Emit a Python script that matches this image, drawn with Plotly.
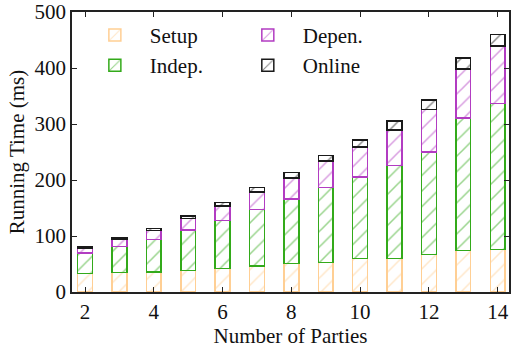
import plotly.graph_objects as go

parties = [2, 3, 4, 5, 6, 7, 8, 9, 10, 11, 12, 13, 14]
setup = [33, 35, 36, 38, 42, 46, 51, 53, 60, 60, 67, 74.5, 76]
indep = [37, 46, 58, 73, 86, 101, 115, 134, 145, 166, 183, 236.5, 261]
depen = [7.5, 13, 16, 20, 26, 32, 38, 47, 54, 63, 76, 87.5, 102.5]
online = [3, 2.5, 3.5, 4.5, 6, 8, 9, 10, 12, 16, 17, 19, 20.5]

series = [
    ("Setup", setup, "#ffcf94", "legend"),
    ("Indep.", indep, "#33aa1a", "legend"),
    ("Depen.", depen, "#b23cc2", "legend2"),
    ("Online", online, "#1a1a1a", "legend2"),
]

FONT = "Liberation Serif"
FS = 21
fig = go.Figure()
for name, vals, col, leg in series:
    fig.add_trace(go.Bar(
        x=parties, y=vals, name=name, width=0.43,
        legend=leg, legendgroup=name,
        marker=dict(color="white",
                    line=dict(color=col, width=1.5),
                    pattern=dict(shape="/", fgcolor=col, bgcolor="white",
                                 size=11, solidity=0.14)),
    ))

axis_common = dict(showline=True, linecolor="#222", linewidth=1.5, mirror="ticks",
                   ticks="inside", ticklen=5, tickwidth=1.2, tickcolor="#222",
                   showgrid=False, zeroline=False, ticklabeloverflow="allow",
                   tickfont=dict(family=FONT, size=FS, color="#111"))

fig.update_layout(
    width=511, height=350,
    margin=dict(l=72, r=0, t=10, b=58),
    barmode="stack",
    plot_bgcolor="white", paper_bgcolor="white",
    font=dict(family=FONT, size=FS, color="#111"),
    xaxis=dict(range=[1.62, 14.33], tickmode="linear", tick0=2, dtick=2,
               title=dict(text="Number of Parties", font=dict(family=FONT, size=FS), standoff=2),
               **axis_common),
    yaxis=dict(range=[0, 500], tickmode="linear", tick0=0, dtick=100,
               title=dict(text="Running Time (ms)", font=dict(family=FONT, size=FS), standoff=4),
               **axis_common),
    legend=dict(x=0.018, y=0.99, xanchor="left", yanchor="top", traceorder="normal",
                bgcolor="rgba(0,0,0,0)", tracegroupgap=3, itemwidth=60,
                font=dict(family=FONT, size=FS)),
    legend2=dict(x=0.368, y=0.99, xanchor="left", yanchor="top", traceorder="normal",
                 bgcolor="rgba(0,0,0,0)", tracegroupgap=3, itemwidth=60,
                 font=dict(family=FONT, size=FS)),
)

fig.write_html("out.html", config={"displayModeBar": False},
               post_script="document.body.style.margin='0px';")
